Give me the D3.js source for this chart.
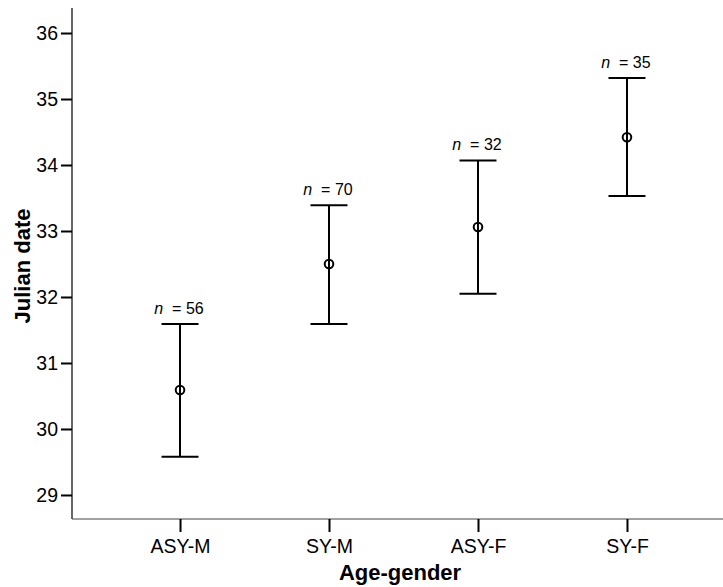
<!DOCTYPE html>
<html>
<head>
<meta charset="utf-8">
<script src="https://cdn.jsdelivr.net/npm/d3@7"></script>
<style>
  body { margin: 0; background: #fff; }
  svg { display: block; font-family: Arial, "Liberation Sans", sans-serif; }
</style>
</head>
<body>
<div class="canvas"></div>
<script>
// data
const groups = ['ASY-M', 'SY-M', 'ASY-F', 'SY-F'];
const means = [30.59, 32.5, 33.06, 34.42];
const lower = [29.58, 31.59, 32.05, 33.53];
const upper = [31.59, 33.39, 34.07, 35.32];
const counts = [56, 70, 32, 35];
const yTicks = [29, 30, 31, 32, 33, 34, 35, 36];

const width = 723;
const height = 587;

const svg = d3.select('.canvas')
  .append('svg')
    .attr('width', width)
    .attr('height', height);

// plot area edges
const plot = {left: 72, top: 8, bottom: 519, right: 735};

const y = d3.scaleLinear()
  .domain([28.636, 36.379])
  .range([plot.bottom, plot.top]);

const x = d3.scalePoint()
  .domain(groups)
  .range([plot.left, plot.right])
  .padding(0.725);

// axes
const yAxis = d3.axisLeft(y).tickValues(yTicks).tickSize(11).tickPadding(3).tickFormat(d3.format('d'));
const xAxis = d3.axisBottom(x).tickSize(13).tickPadding(7);

const yAxisGroup = svg.append('g')
  .attr('transform', `translate(${plot.left},0)`)
  .call(yAxis);

const xAxisGroup = svg.append('g')
  .attr('transform', `translate(0,${plot.bottom})`)
  .call(xAxis);

yAxisGroup.select('.domain').attr('d', `M0,${plot.top}V${plot.bottom}`).attr('stroke', '#000').attr('stroke-width', 1.2);
xAxisGroup.select('.domain').attr('d', `M${plot.left},0H${plot.right}`).attr('stroke', '#444').attr('stroke-width', 1.2);

svg.selectAll('.tick line').attr('stroke', '#000').attr('stroke-width', 2);
svg.selectAll('.tick text').attr('font-size', 19.5).attr('fill', '#000')
  .attr('font-family', 'Arial, "Liberation Sans", sans-serif');

// axis titles
svg.append('text')
  .attr('x', 400)
  .attr('y', 580)
  .attr('text-anchor', 'middle')
  .attr('font-size', 22)
  .attr('font-weight', 'bold')
  .text('Age-gender');

svg.append('text')
  .attr('transform', 'translate(30,266) rotate(-90)')
  .attr('text-anchor', 'middle')
  .attr('font-size', 22)
  .attr('font-weight', 'bold')
  .text('Julian date');

// error bars
const rows = groups.map((g, i) => ({ g, mean: means[i], lo: lower[i], hi: upper[i], n: counts[i] }));
const capHalf = 18.5;

const bars = svg.append('g').selectAll('g')
  .data(rows)
  .enter()
  .append('g');

bars.append('line')
  .attr('x1', d => x(d.g))
  .attr('x2', d => x(d.g))
  .attr('y1', d => y(d.lo))
  .attr('y2', d => y(d.hi))
  .attr('stroke', '#000')
  .attr('stroke-width', 2);

bars.selectAll('line.cap')
  .data(d => [{ g: d.g, v: d.lo }, { g: d.g, v: d.hi }])
  .enter()
  .append('line')
    .attr('class', 'cap')
    .attr('x1', d => x(d.g) - capHalf)
    .attr('x2', d => x(d.g) + capHalf)
    .attr('y1', d => y(d.v))
    .attr('y2', d => y(d.v))
    .attr('stroke', '#000')
    .attr('stroke-width', 2);

bars.append('circle')
  .attr('cx', d => x(d.g))
  .attr('cy', d => y(d.mean))
  .attr('r', 4.3)
  .attr('fill', 'none')
  .attr('stroke', '#000')
  .attr('stroke-width', 2);

// n labels
const labels = bars.append('text')
  .attr('x', d => x(d.g) - 1)
  .attr('y', d => y(d.hi) - 10)
  .attr('text-anchor', 'middle')
  .attr('font-size', 16);

labels.append('tspan')
  .attr('font-style', 'italic')
  .text('n');
labels.append('tspan')
  .attr('xml:space', 'preserve')
  .text(d => `  = ${d.n}`);
</script>
</body>
</html>
